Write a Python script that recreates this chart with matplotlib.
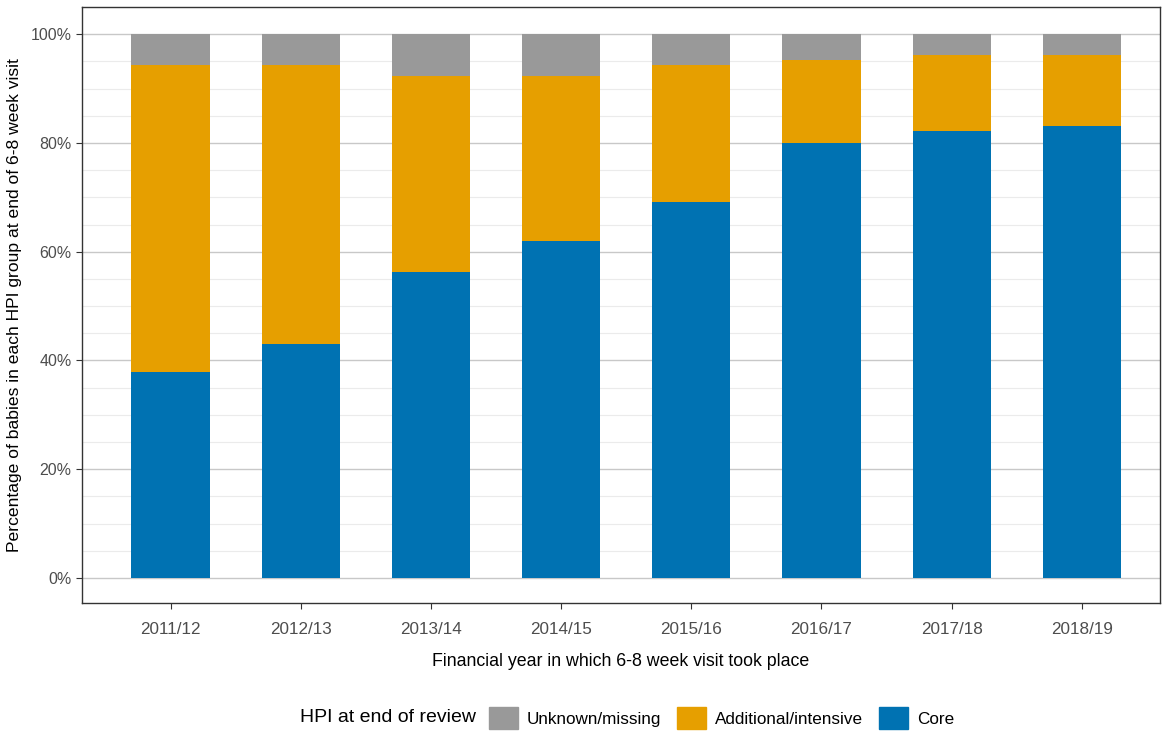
import numpy as np
import matplotlib.pyplot as plt
from matplotlib.patches import Patch
from matplotlib.ticker import MultipleLocator, PercentFormatter

years = ["2011/12", "2012/13", "2013/14", "2014/15", "2015/16", "2016/17", "2017/18", "2018/19"]
core = [37.9, 43.0, 56.2, 61.9, 69.1, 80.0, 82.2, 83.1]
additional = [56.4, 51.3, 36.1, 30.4, 25.2, 15.2, 13.9, 13.0]
unknown = [5.7, 5.7, 7.7, 7.7, 5.7, 4.8, 3.9, 3.9]

col_core = "#0072B2"
col_add = "#E69F00"
col_unk = "#999999"

plt.rcParams['font.family'] = ['Liberation Sans', 'DejaVu Sans']

fig = plt.figure(figsize=(11.62, 7.33), dpi=100)
ax = fig.add_axes([82 / 1162, 130 / 733, 1078 / 1162, 596 / 733])

x = np.arange(len(years))
core = np.array(core)
additional = np.array(additional)
unknown = np.array(unknown)
ax.bar(x, core, width=0.6, color=col_core, zorder=3)
ax.bar(x, additional, width=0.6, bottom=core, color=col_add, zorder=3)
ax.bar(x, unknown, width=0.6, bottom=core + additional, color=col_unk, zorder=3)

ax.set_xlim(-0.68, 7.6)
ax.set_ylim(-4.6, 105)
ax.set_xticks(x)
ax.set_xticklabels(years)
ax.yaxis.set_major_locator(MultipleLocator(20))
ax.yaxis.set_minor_locator(MultipleLocator(5))
ax.yaxis.set_major_formatter(PercentFormatter(decimals=0))
ax.grid(axis='y', which='major', color='#C8C8C8', linewidth=1.0, zorder=0)
ax.grid(axis='y', which='minor', color='#EBEBEB', linewidth=0.8, zorder=0)
ax.tick_params(axis='both', which='major', labelcolor='#4D4D4D', color='#333333', length=4)
ax.tick_params(axis='x', labelsize=12.3, pad=10)
ax.tick_params(axis='y', labelsize=11.5)
ax.tick_params(axis='y', which='minor', length=0)
for s in ax.spines.values():
    s.set_color('#333333')
    s.set_linewidth(1.0)

ax.set_xlabel("Financial year in which 6-8 week visit took place", fontsize=12.8, labelpad=11)
ax.set_ylabel("Percentage of babies in each HPI group at end of 6-8 week visit", fontsize=12.6, labelpad=6)

fig.text(300 / 1162, 15 / 733, "HPI at end of review", fontsize=14, va='center', ha='left')
handles = [Patch(color=col_unk, label="Unknown/missing"),
           Patch(color=col_add, label="Additional/intensive"),
           Patch(color=col_core, label="Core")]
fig.legend(handles=handles, ncol=3, loc='center left', bbox_to_anchor=(489 / 1162, 15 / 733),
           frameon=False, fontsize=12.3, handlelength=1.7, handleheight=1.6,
           handletextpad=0.5, columnspacing=0.95, borderpad=0, borderaxespad=0)

fig.savefig("out.png", dpi=100)
